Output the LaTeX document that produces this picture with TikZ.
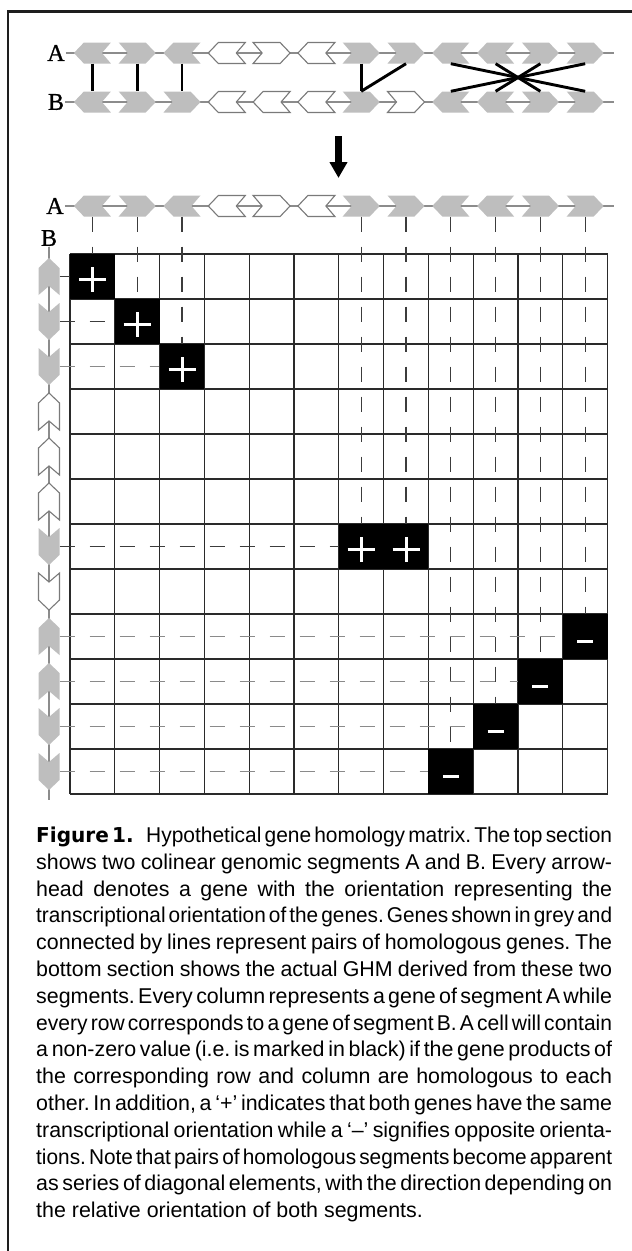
\documentclass[tikz,border=0pt]{standalone}
\usepackage{fontspec}
\usepackage{graphicx}
\setmainfont{Liberation Sans}
\newfontfamily\serifletters[FakeBold=0.9]{Liberation Serif}
\newfontfamily\heavysans{DejaVu Sans Bold}
\usetikzlibrary{arrows.meta}

\definecolor{genefill}{HTML}{BEBEBE}
\definecolor{geneline}{HTML}{7A7A7A}
\definecolor{axisgrey}{HTML}{8C8C8C}
\definecolor{dashcol}{HTML}{3C3C3C}
\definecolor{dashlight}{HTML}{8A8A8A}
\definecolor{gridcol}{HTML}{2A2A2A}
\definecolor{framecol}{HTML}{1E1E1E}

% one justified caption line of fixed width; a line that is too long
% even with tight word spaces is condensed horizontally
\newsavebox{\capbox}
\newcommand{\justline}[1]{%
  \sbox{\capbox}{\spaceskip=0.15em\relax#1}%
  \ifdim\wd\capbox>576pt
    \resizebox{576pt}{\height}{\usebox{\capbox}}%
  \else
    \makebox[576pt][s]{#1}%
  \fi}

\tikzset{
  geneshape/.pic={\path[pic actions] (-18.5,-10.5) -- (8.5,-10.5) -- (18.5,0) -- (8.5,10.5) -- (-18.5,10.5) -- (-9.5,0) -- cycle;},
  genebox/.style={draw=none, inner sep=0pt, minimum width=37pt, minimum height=21pt},
  vgenebox/.style={draw=none, inner sep=0pt, minimum width=21pt, minimum height=37pt},
  geneedge/.style={line width=1.1pt, line join=miter},
  axis/.style={draw=axisgrey, line width=1.2pt},
  seglabel/.style={font=\serifletters\fontsize{24}{24}\selectfont, inner sep=1pt},
  homline/.style={line width=2.9pt, black},
  track/.style={dashcol, line width=1.3pt, dash pattern=on 15pt off 15pt},
  lighttrack/.style={track, dashlight},
  gridline/.style={gridcol, line width=1.3pt},
  hit/.style={fill=black, draw=none, inner sep=0pt, minimum width=44.8pt, minimum height=45pt},
  plus/.style={hit, path picture={\draw[white, line width=3pt] ([yshift=-3pt]path picture bounding box.center) +(-13.5,0) -- +(13.5,0) +(0,-12.5) -- +(0,12.5);}},
  minus/.style={hit, path picture={\draw[white, line width=3.5pt] ([yshift=-5pt]path picture bounding box.center) +(-8,0) -- +(8,0);}},
  capline/.style={inner sep=0pt, anchor=base west, font={\fontsize{21.4}{25}\selectfont\frenchspacing\spaceskip=0.278em plus 1em minus 0.128em}},
}

\begin{document}
\begin{tikzpicture}[x=1pt, y=-1pt]
\useasboundingbox (0,0) rectangle (632,1251);
\fill[white] (0,0) rectangle (632,1251);

% frame
\draw[framecol, line width=2.8pt, line join=miter] (8,1251) -- (8,11.3) -- (632,11.3);

% ---------- the two genomic segments ----------
\node[seglabel] (tA) at (56,53) {A};
\node[seglabel] (tB) at (56,102) {B};
\coordinate (tAend) at (614,53);
\coordinate (tBend) at (614,102);
\draw[axis] (tA.east) -- (tAend);
\draw[axis] (tB.east) -- (tBend);

% segment A: index / direction / fill / outline
\foreach \k/\d/\fc/\dc in {1/180/genefill/none, 2/0/genefill/none, 3/180/genefill/none,
    4/180/white/geneline, 5/0/white/geneline, 6/180/white/geneline,
    7/0/genefill/none, 8/0/genefill/none, 9/180/genefill/none,
    10/180/genefill/none, 11/0/genefill/none, 12/0/genefill/none} {
  \node[genebox] (ta\k) at ({47.6+44.8*\k},53) {};
  \pic[fill=\fc, draw=\dc, geneedge, rotate=\d] at (ta\k) {geneshape};
  \node[genebox] (ma\k) at ({47.6+44.8*\k},206) {};
}

% segment B
\foreach \k/\d/\fc/\dc in {1/180/genefill/none, 2/0/genefill/none, 3/0/genefill/none,
    4/180/white/geneline, 5/180/white/geneline, 6/180/white/geneline,
    7/0/genefill/none, 8/0/white/geneline, 9/180/genefill/none,
    10/180/genefill/none, 11/0/genefill/none, 12/0/genefill/none} {
  \node[genebox] (tb\k) at ({47.6+44.8*\k},102) {};
  \pic[fill=\fc, draw=\dc, geneedge, rotate=\d] at (tb\k) {geneshape};
}

% homologous pairs
\foreach \a/\b in {1/1, 2/2, 3/3, 7/7, 8/7, 9/12, 10/11, 11/10, 12/9}
  \draw[homline] (ta\a.south) -- (tb\b.north);

% derivation arrow
\coordinate (arrtop) at (338.5,136);
\coordinate (arrbot) at (338.5,178);
\draw[line width=6.5pt, -{Triangle[width=17pt, length=16pt]}] (arrtop) -- (arrbot);

% ---------- gene homology matrix ----------
\node[seglabel] (mA) at (55,206) {A};
\node[seglabel] (mB) at (49,238) {B};
\coordinate (mAend) at (614,206);
\coordinate (mBend) at (49,800);
\draw[axis] (mA.east) -- (mAend);
\draw[axis] (mB.south) -- (mBend);

% segment A along the columns
\foreach \k/\d/\fc/\dc in {1/180/genefill/none, 2/0/genefill/none, 3/180/genefill/none,
    4/180/white/geneline, 5/0/white/geneline, 6/180/white/geneline,
    7/0/genefill/none, 8/0/genefill/none, 9/180/genefill/none,
    10/180/genefill/none, 11/0/genefill/none, 12/0/genefill/none}
  \pic[fill=\fc, draw=\dc, geneedge, rotate=\d] at (ma\k) {geneshape};

% segment B along the rows
\foreach \k/\d/\fc/\dc in {1/180/genefill/none, 2/0/genefill/none, 3/0/genefill/none,
    4/180/white/geneline, 5/180/white/geneline, 6/180/white/geneline,
    7/0/genefill/none, 8/0/white/geneline, 9/180/genefill/none,
    10/180/genefill/none, 11/0/genefill/none, 12/0/genefill/none} {
  \node[vgenebox] (mb\k) at (49,{231.5+45*\k}) {};
  \pic[fill=\fc, draw=\dc, geneedge, rotate=\d-90] at (mb\k) {geneshape};
}

% grid
\foreach \i in {0,...,12} {
  \draw[gridline] ({70+44.8*\i},254) -- ({70+44.8*\i},794);
  \draw[gridline] (70,{254+45*\i}) -- (607.6,{254+45*\i});
}

% non-zero cells
\foreach \r/\c in {1/1, 2/2, 3/3, 7/7, 7/8}
  \node[plus] (h\r-\c) at ({47.6+44.8*\c},{231.5+45*\r}) {};
\foreach \r/\c in {9/12, 10/11, 11/10, 12/9}
  \node[minus] (h\r-\c) at ({47.6+44.8*\c},{231.5+45*\r}) {};

% tracks from the genes to their cells
\foreach \r/\c in {1/1, 2/2, 3/3, 7/7, 7/8, 9/12, 10/11, 11/10, 12/9}
  \draw[track] (ma\c.south) -- (h\r-\c.north);
\foreach \r/\c in {1/1, 2/2, 7/7}
  \draw[track] (mb\r.east) -- (h\r-\c.west);
\foreach \r/\c in {3/3, 9/12, 10/11, 11/10, 12/9}
  \draw[lighttrack] (mb\r.east) -- (h\r-\c.west);

% ---------- caption ----------
\node[capline] (cap1) at (36,842.5) {\justline{{\heavysans\fontsize{20.5}{20}\selectfont Figure 1.}\hspace{0.6em}Hypothetical gene homology matrix. The top section}};
\node[capline] (cap2) at (36,869.3) {\justline{shows two colinear genomic segments A and B. Every arrow-}};
\node[capline] (cap3) at (36,896.1) {\justline{head denotes a gene with the orientation representing the}};
\node[capline] (cap4) at (36,922.9) {\justline{transcriptional orientation of the genes. Genes shown in grey and}};
\node[capline] (cap5) at (36,949.7) {\justline{connected by lines represent pairs of homologous genes. The}};
\node[capline] (cap6) at (36,976.5) {\justline{bottom section shows the actual GHM derived from these two}};
\node[capline] (cap7) at (36,1003.3) {\justline{segments. Every column represents a gene of segment A while}};
\node[capline] (cap8) at (36,1030.1) {\justline{every row corresponds to a gene of segment B. A cell will contain}};
\node[capline] (cap9) at (36,1056.9) {\justline{a non-zero value (i.e. is marked in black) if the gene products of}};
\node[capline] (cap10) at (36,1083.7) {\justline{the corresponding row and column are homologous to each}};
\node[capline] (cap11) at (36,1110.5) {\justline{other. In addition, a ‘+’ indicates that both genes have the same}};
\node[capline] (cap12) at (36,1137.3) {\justline{transcriptional orientation while a ‘–’ signifies opposite orienta-}};
\node[capline] (cap13) at (36,1164.1) {\justline{tions. Note that pairs of homologous segments become apparent}};
\node[capline] (cap14) at (36,1190.9) {\justline{as series of diagonal elements, with the direction depending on}};
\node[capline] (cap15) at (36,1217.7) {the relative orientation of both segments.};
\end{tikzpicture}
\end{document}
